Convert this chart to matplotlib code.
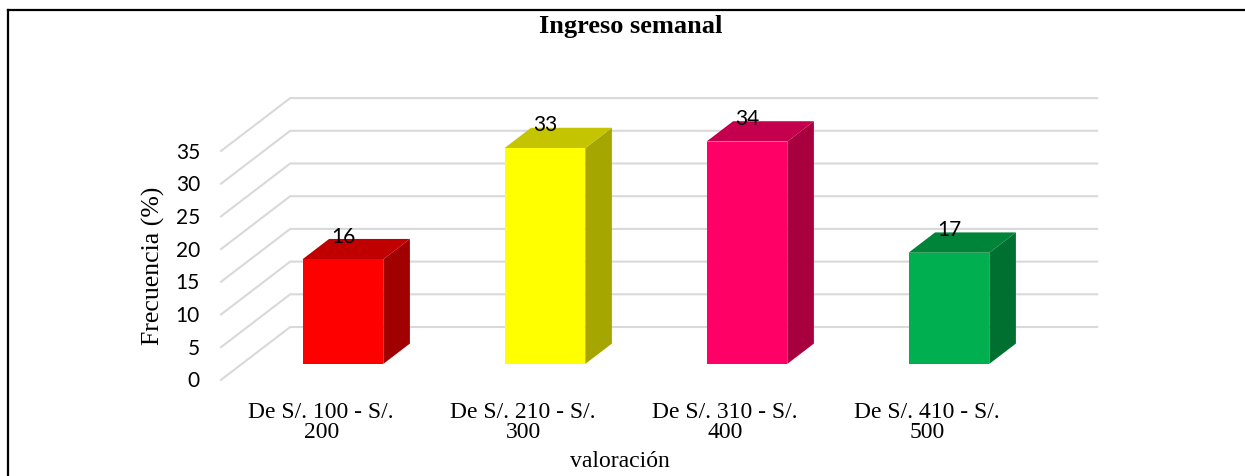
import matplotlib.pyplot as plt
from matplotlib.patches import Polygon
from matplotlib.lines import Line2D

# Ingreso semanal - frecuencia por rango
categorias = ["De S/. 100 - S/.\n200", "De S/. 210 - S/.\n300",
              "De S/. 310 - S/.\n400", "De S/. 410 - S/.\n500"]
frecuencia = [16, 33, 34, 17]
ticks_y = [0, 5, 10, 15, 20, 25, 30, 35]

color_frente = ["#FF0000", "#FFFF00", "#FF0066", "#00B050"]
color_techo = ["#C00000", "#C4C400", "#C4004E", "#00843A"]
color_lado = ["#A00000", "#A6A600", "#A8003F", "#007030"]

serif = "Liberation Serif"
sans = "Lato"

W, H = 1245, 477
fig = plt.figure(figsize=(W / 100, H / 100), dpi=100)
ax = fig.add_axes([0, 0, 1, 1])
ax.set_xlim(-321.2 / 202, (W - 321.2) / 202)
ax.set_ylim(-95.5 / 6.54, (H - 95.5) / 6.54)
ax.axis("off")

# desplazamiento de profundidad (vista oblicua)
DX, DY = 70 / 202, 53.5 / 6.54
z0, z1 = 0.31, 0.69
media = 0.2


def p(x, y, z):
    return (x + z * DX, y + z * DY)


# cuadricula: pared del fondo + diagonales del piso
for v in ticks_y:
    pts = [p(-0.5, v, 0), p(-0.5, v, 1), p(3.5, v, 1)]
    ax.plot([q[0] for q in pts], [q[1] for q in pts], color="#D9D9D9",
            lw=1.5, zorder=1, solid_capstyle="butt")
    ax.text(-0.6, v, str(v), ha="right", va="center", fontsize=15,
            family=sans)

# barras 3D
for i, v in enumerate(frecuencia):
    x0, x1 = i - media, i + media
    frente = [p(x0, 0, z0), p(x1, 0, z0), p(x1, v, z0), p(x0, v, z0)]
    techo = [p(x0, v, z0), p(x1, v, z0), p(x1, v, z1), p(x0, v, z1)]
    lado = [p(x1, 0, z0), p(x1, 0, z1), p(x1, v, z1), p(x1, v, z0)]
    ax.add_patch(Polygon(lado, closed=True, fc=color_lado[i], ec="none", zorder=3))
    ax.add_patch(Polygon(techo, closed=True, fc=color_techo[i], ec="none", zorder=3))
    ax.add_patch(Polygon(frente, closed=True, fc=color_frente[i], ec="none", zorder=4))
    lx, ly = p(i, v, z1)
    ax.text(i + z0 * DX, ly + 0.5, str(v), ha="center", va="center",
            fontsize=15, family=sans, zorder=5)
    # etiqueta de categoria
    ax.text(i, -3.15, categorias[i], ha="center", va="top", fontsize=17,
            family=serif, linespacing=0.95)

ax.text(1.48, -12.2, "valoración", ha="center", va="center", fontsize=17,
        family=serif)
fig.text(153 / W, 1 - 266 / H, "Frecuencia (%)", rotation=90, ha="center",
         va="center", fontsize=18.5, family=serif)
fig.text(631 / W, 1 - 27 / H, "Ingreso semanal", ha="center", va="center",
         fontsize=19, family=serif, fontweight="bold")

# marco
fig.add_artist(Line2D([8 / W, 1], [1 - 11 / H, 1 - 11 / H], color="black", lw=1.6))
fig.add_artist(Line2D([8 / W, 8 / W], [0, 1 - 11 / H], color="black", lw=1.6))

fig.savefig("out.png", dpi=100)
